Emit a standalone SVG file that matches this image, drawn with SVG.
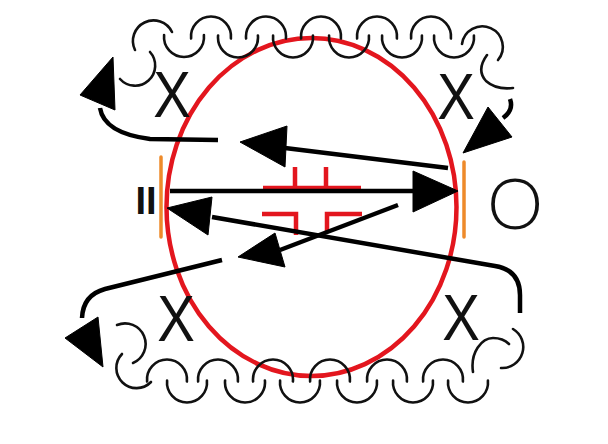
<svg xmlns="http://www.w3.org/2000/svg" width="608" height="444" viewBox="0 0 608 444">
<style>
.coil{fill:none;stroke:#111;stroke-width:2.6;stroke-linecap:round}
.wire{fill:none;stroke:#000;stroke-width:4.5;stroke-linejoin:round}
.head{fill:#000;stroke:#000;stroke-width:1;stroke-linejoin:round}
.red{fill:none;stroke:#e3161e;stroke-width:4.5}
.bar{stroke:#ee8a2a;stroke-width:3.5;stroke-linecap:round}
.lbl{font-family:"Liberation Sans",Arial,sans-serif;fill:#111}
</style>
<rect width="608" height="444" fill="#fff"/>
<g id="loop">
<ellipse cx="311.5" cy="207" rx="145" ry="169" fill="none" stroke="#e3161e" stroke-width="4.5"/>
</g>
<g id="symbol">
<path class="red" d="M263,188 L361,188 M295,167 L295,188 M326,167 L326,188 M262,214 L296,214 L296,235 M362,214 L327,214 L327,232"/>
</g>
<g id="coil-top">
<path class="coil" d="M135,50 A20.5,20.5 0 0 1 172,32"/>
<path class="coil" d="M150,52 A19.5,19.5 0 0 1 120,79"/>
<path class="coil" d="M164.1,35 A20,20 0 1 0 203.9,35"/>
<path class="coil" d="M191.1,38.5 A20,20 0 1 1 230.9,38.5"/>
<path class="coil" d="M218.1,35.5 A20,20 0 1 0 257.9,35.5"/>
<path class="coil" d="M246.1,38.5 A20,20 0 1 1 285.9,38.5"/>
<path class="coil" d="M273.1,35.5 A20,20 0 1 0 312.9,35.5"/>
<path class="coil" d="M301.1,38.5 A20,20 0 1 1 340.9,38.5"/>
<path class="coil" d="M329.1,35.5 A20,20 0 1 0 368.9,35.5"/>
<path class="coil" d="M357.1,38.5 A20,20 0 1 1 396.9,38.5"/>
<path class="coil" d="M382.1,35.5 A20,20 0 1 0 421.9,35.5"/>
<path class="coil" d="M411.1,38.5 A20,20 0 1 1 450.9,38.5"/>
<path class="coil" d="M434.1,35.5 A20,20 0 1 0 473.9,35.5"/>
<path class="coil" d="M462,44 A20.5,20.5 0 1 1 498,60"/>
<path class="coil" d="M487,55 Q476,70 486,81 Q496,90 513,88"/>
</g>
<g id="coil-bottom">
<path class="coil" d="M117,325 A20,20 0 0 1 133,363"/>
<path class="coil" d="M122,354 A19.5,19.5 0 0 0 151,382"/>
<path class="coil" d="M147.1,381.5 A20,20 0 1 1 186.9,381.5"/>
<path class="coil" d="M167.1,380.5 A20,20 0 1 0 206.9,380.5"/>
<path class="coil" d="M198.1,381.5 A20,20 0 1 1 237.9,381.5"/>
<path class="coil" d="M225.1,380.5 A20,20 0 1 0 264.9,380.5"/>
<path class="coil" d="M253.1,381.5 A20,20 0 1 1 292.9,381.5"/>
<path class="coil" d="M280.1,380.5 A20,20 0 1 0 319.9,380.5"/>
<path class="coil" d="M310.1,381.5 A20,20 0 1 1 349.9,381.5"/>
<path class="coil" d="M337.1,380.5 A20,20 0 1 0 376.9,380.5"/>
<path class="coil" d="M367.1,381.5 A20,20 0 1 1 406.9,381.5"/>
<path class="coil" d="M393.1,380.5 A20,20 0 1 0 432.9,380.5"/>
<path class="coil" d="M423.1,381.5 A20,20 0 1 1 462.9,381.5"/>
<path class="coil" d="M448.1,380.5 A20,20 0 1 0 487.9,380.5"/>
<path class="coil" d="M473,372 C470,352 482,338 493,338 C500,338 505,340 509,344"/>
<path class="coil" d="M513,329 A21,21 0 0 1 501,368"/>
</g>
<g id="plate-left">
<line class="bar" x1="161" y1="157" x2="161" y2="237"/>
<text class="lbl" x="146" y="214" font-size="38" font-weight="bold" text-anchor="middle" fill="#333">II</text>
</g>
<g id="plate-right">
<line class="bar" x1="464" y1="162" x2="464" y2="237"/>
<text x="515" y="229" font-family="Lato,'Liberation Sans',sans-serif" font-weight="300" font-size="71" text-anchor="middle" fill="#111">O</text>
</g>
<g id="x-top-left"><text class="lbl" transform="translate(172,117) scale(0.88,1)" font-size="64" text-anchor="middle">X</text></g>
<g id="x-top-right"><text class="lbl" transform="translate(456,119) scale(0.88,1)" font-size="64" text-anchor="middle">X</text></g>
<g id="x-bottom-left"><text class="lbl" transform="translate(176,341) scale(0.88,1)" font-size="64" text-anchor="middle">X</text></g>
<g id="x-bottom-right"><text class="lbl" transform="translate(461,340) scale(0.88,1)" font-size="64" text-anchor="middle">X</text></g>
<g id="connectors">
<path class="wire" d="M170,191 L420,191"/>
<polygon class="head" points="458,191 413,171 413,212"/>
<path class="wire" d="M448,168 L285,148"/>
<polygon class="head" points="240,142 287,126 285,167"/>
<path class="wire" d="M520,313 L520,295 Q520,270 495,266 L212,217"/>
<polygon class="head" points="167,208 212,197 208,235"/>
<path class="wire" d="M398,205 L280,250"/>
<polygon class="head" points="238,257 275,233 285,267"/>
<path class="wire" d="M222,260 L105,289 Q83,295 82,318"/>
<polygon class="head" points="65,338 98,317 103,367"/>
<path class="wire" d="M218,140 L150,139 Q104,133 100,108"/>
<polygon class="head" points="80,95 113,57 115,110"/>
<path class="wire" d="M510,99 Q514,110 503,118" stroke-width="3"/>
<polygon class="head" points="463,153 488,107 512,137"/>
</g>
</svg>
